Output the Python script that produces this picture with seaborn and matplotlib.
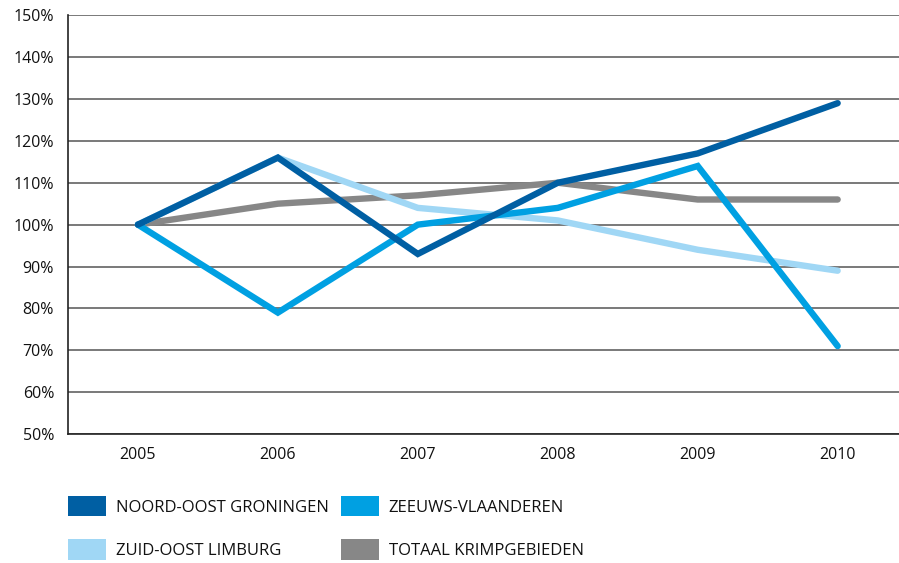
import pandas as pd
import seaborn as sns
import matplotlib.pyplot as plt
from matplotlib.patches import Patch
from matplotlib.ticker import FixedLocator

# waarden als % van 2005
years = ["2005", "2006", "2007", "2008", "2009", "2010"]
noord_oost_groningen = [100, 116, 93, 110, 117, 129]
zeeuws_vlaanderen = [100, 79, 100, 104, 114, 71]
zuid_oost_limburg = [100, 116, 104, 101, 94, 89]
totaal_krimp = [100, 105, 107, 110, 106, 106]

names = ["NOORD-OOST GRONINGEN", "ZEEUWS-VLAANDEREN", "ZUID-OOST LIMBURG", "TOTAAL KRIMPGEBIEDEN"]
colors = {"NOORD-OOST GRONINGEN": "#005fa3",
          "ZEEUWS-VLAANDEREN": "#00a0e2",
          "ZUID-OOST LIMBURG": "#a0d7f5",
          "TOTAAL KRIMPGEBIEDEN": "#878787"}

rows = []
for name, vals in zip(names, [noord_oost_groningen, zeeuws_vlaanderen, zuid_oost_limburg, totaal_krimp]):
    for i, v in enumerate(vals):
        rows.append({"idx": i, "jaar": years[i], "regio": name, "waarde": v})
df = pd.DataFrame(rows)

sns.set_style("white")
plt.rcParams["font.family"] = ["Open Sans", "DejaVu Sans"]

fig = plt.figure(figsize=(8.99, 5.63), dpi=100)
ax = fig.add_axes([0.0756, 0.229, 0.934, 0.744])

# tekenvolgorde: grijs onderop, donkerblauw bovenop
draw_order = ["TOTAAL KRIMPGEBIEDEN", "ZUID-OOST LIMBURG", "ZEEUWS-VLAANDEREN", "NOORD-OOST GRONINGEN"]
sns.lineplot(data=df, x="idx", y="waarde", hue="regio", hue_order=draw_order,
             palette=colors, linewidth=4.6, legend=False, ax=ax,
             solid_capstyle="round", solid_joinstyle="miter")

ax.set_xlim(-0.5, 5.5)
ax.set_ylim(50, 150)
ax.set_yticks(range(50, 151, 10))
ax.set_yticklabels([f"{v}%" for v in range(50, 151, 10)])
ax.set_xticks(range(len(years)))
ax.set_xticklabels(years)
ax.xaxis.set_minor_locator(FixedLocator([0.5, 1.5, 2.5, 3.5, 4.5]))
ax.tick_params(axis="x", which="major", length=0, pad=9, labelsize=11.5, colors="#111111")
ax.tick_params(axis="x", which="minor", direction="in", length=10, width=1, color="#222222")
ax.tick_params(axis="y", length=0, pad=10, labelsize=11.5, colors="#111111")
ax.set_xlabel("")
ax.set_ylabel("")

ax.yaxis.grid(True, color="#555555", linewidth=1.1)
ax.set_axisbelow(True)
for s in ["top", "right"]:
    ax.spines[s].set_visible(False)
for s in ["left", "bottom"]:
    ax.spines[s].set_color("#222222")
    ax.spines[s].set_linewidth(1.2)

# legenda kolomsgewijs: rij 1 = groningen, zeeuws; rij 2 = limburg, totaal
leg_order = ["NOORD-OOST GRONINGEN", "ZUID-OOST LIMBURG", "ZEEUWS-VLAANDEREN", "TOTAAL KRIMPGEBIEDEN"]
handles = [Patch(facecolor=colors[n], edgecolor="none", label=n) for n in leg_order]
fig.legend(handles=handles, ncol=2, loc="upper left", bbox_to_anchor=(0.0756, 0.119),
           frameon=False, fontsize=12, handlelength=2.28, handleheight=1.5,
           handletextpad=0.6, columnspacing=0.7, labelspacing=1.38,
           borderpad=0, borderaxespad=0, labelcolor="#111111")

fig.savefig("out.png", dpi=100)
